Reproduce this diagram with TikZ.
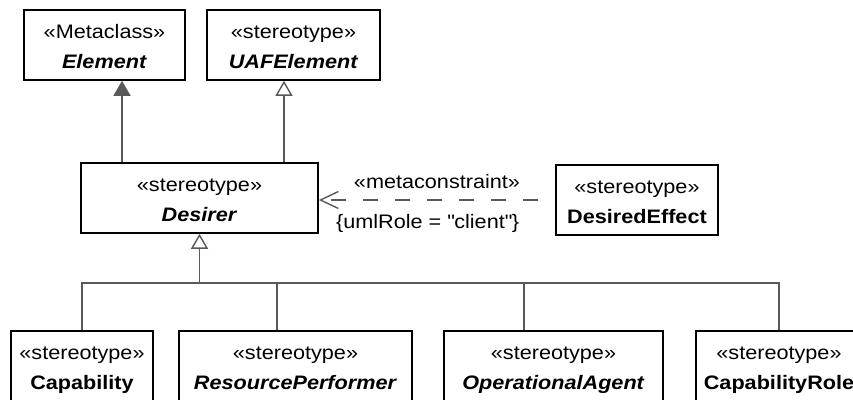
\documentclass[tikz,border=0pt]{standalone}
\usepackage{fontspec}
\setmainfont{Liberation Sans}[FakeStretch=1.11]
\usetikzlibrary{arrows.meta}

\newcommand{\boxstrut}{\rule[-7pt]{0pt}{30pt}}
\newcommand{\umlclass}[2]{\boxstrut«#1»\\\boxstrut#2}

\begin{document}
\begin{tikzpicture}[
            x=1pt,
            y=-1pt,
            umlbox/.style={
                draw,
                line width=1.6pt,
                minimum height=70pt,
                align=center,
                inner sep=0pt,
                font=\fontsize{19.5}{30}\selectfont
            },
            link/.style={
                draw=black!65,
                line width=1.4pt
            },
            tagtext/.style={
                text=black,
                inner sep=0pt,
                font=\fontsize{19.5}{22}\selectfont
            },
            gentip/.style={
                -{Triangle[open,length=15pt,width=17pt]}
            }
        ]
            \useasboundingbox (0,0) rectangle (853,399);
            \clip (0,0) rectangle (853,399);

            \node[umlbox, minimum width=161pt] (elem) at (104.5,45)
                {\umlclass{Metaclass}{\textbf{\textit{Element}}}};
            \node[umlbox, minimum width=173pt] (uafelem) at (293.5,45)
                {\umlclass{stereotype}{\textbf{\textit{UAFElement}}}};
            \node[umlbox, minimum width=237pt] (desirer) at (199.5,198)
                {\umlclass{stereotype}{\textbf{\textit{Desirer}}}};
            \node[umlbox, minimum width=162pt] (effect) at (637,200)
                {\umlclass{stereotype}{\textbf{DesiredEffect}}};

            \node[umlbox, minimum width=142pt] (capab) at (82,366)
                {\umlclass{stereotype}{\textbf{Capability}}};
            \node[umlbox, minimum width=233pt] (resperf) at (295.5,366)
                {\umlclass{stereotype}{\textbf{\textit{ResourcePerformer}}}};
            \node[umlbox, minimum width=219pt] (opagent) at (553.5,366)
                {\umlclass{stereotype}{\textbf{\textit{OperationalAgent}}}};
            \node[umlbox, minimum width=166pt] (caprole) at (779,366)
                {\umlclass{stereotype}{\textbf{CapabilityRole}}};

            \draw[link, -{Triangle[length=15pt,width=17pt]}]
                (desirer.north -| 122,0) -- (elem.south -| 122,0);
            \draw[link, gentip]
                (desirer.north -| 284,0) -- (uafelem.south -| 284,0);

            \draw[link, dash pattern=on 15pt off 17pt, dash phase=15pt,
                -{Straight Barb[length=18pt,width=17pt]}]
                (effect.west) -- (effect.west -| desirer.east)
                node[tagtext, pos=0.5, anchor=base, yshift=12pt] {«metaconstraint»}
                node[tagtext, pos=0.54, anchor=base, yshift=-28pt]
                    {\{umlRole = \textquotedbl client\textquotedbl\}};

            \coordinate (bus) at (199.5,283);
            \draw[link, gentip] (bus) -- (desirer.south);
            \draw[link] (capab.north) |- (bus);
            \draw[link] ([xshift=-18.5pt]resperf.north) |- (bus);
            \draw[link] ([xshift=-29.5pt]opagent.north) |- (bus);
            \draw[link] (caprole.north) |- (bus);
        \end{tikzpicture}
\end{document}
